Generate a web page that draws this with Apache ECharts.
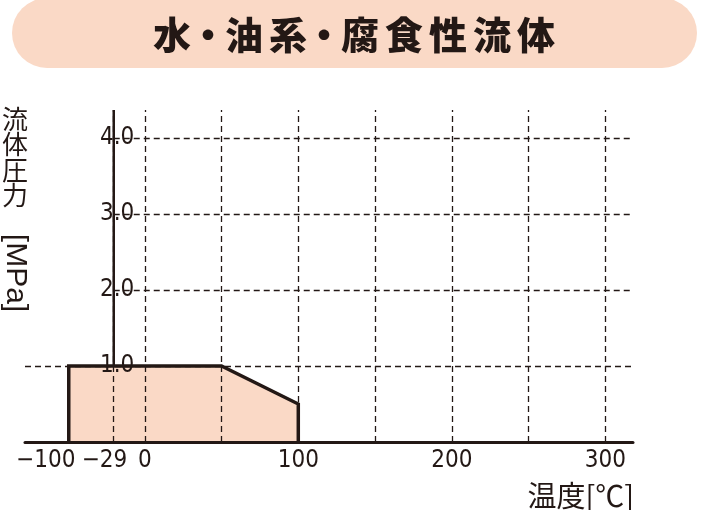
<!DOCTYPE html>
<html>
<head>
<meta charset="utf-8">
<script src="https://cdn.jsdelivr.net/npm/echarts@6/dist/echarts.min.js"></script>
<style>
  html, body { margin: 0; padding: 0; background: #fff; }
  #chart { width: 703px; height: 510px; }
</style>
</head>
<body>
<div id="chart"></div>
<script>
// working envelope: temperature [°C] vs fluid pressure [MPa]
const tempPoints = [-100, -100, 50, 100, 100];
const pressPoints = [0, 1.0, 1.0, 0.5, 0];

const xTickTemps = [-100, -29, 0, 100, 200, 300];
const xTickLabels = ['−100', '−29', '0', '100', '200', '300'];
const xGridTemps = [-29, 0, 50, 100, 150, 200, 250, 300];
const yTicks = [1.0, 2.0, 3.0, 4.0];

const titleText = '水・油系・腐食性流体';
const yNameChars = ['流', '体', '圧', '力'];
const yNameUnit = '[MPa]';
const xName = '温度[℃]';

const INK = '#231815';
const PEACH = '#fad9c6';
const NUM_FONT = 'DejaVu Sans Condensed';
const JP_FONT = '"Noto Sans CJK JP", sans-serif';

// the chart squeezes the range below 0 °C
const toAxis = t => {
    if (t >= 0) return t;
    if (t >= -29) return t * 20.2 / 29;
    return -20.2 + (t + 29) * (29.3 / 71);
};
const xMin = -78, xMax = 318;
const yMax = 4.37;
// labels left of zero sit a bit off their line
const labelNudge = [-15, -6, 0, 0, 0, 0];
const xLabelPos = xTickTemps.map((t, i) => toAxis(t) + labelNudge[i]);

const dash = { color: INK, width: 1.3, type: [6, 4] };

const envelope = tempPoints.map((t, i) => [toAxis(t), pressPoints[i]]);

const gridLines = [
    ...xGridTemps.map(t => ({ xAxis: toAxis(t) })),
    ...yTicks.map(v => [
        { coord: [v === 1 ? xMin : toAxis(-29), v] },
        { coord: [xMax, v] }
    ])
];

// title characters laid out one by one (dots are narrower)
const titleGraphics = [];
let cx = 150;
for (const ch of titleText) {
    const w = ch === '・' ? 28 : 44;
    titleGraphics.push({
        type: 'text', x: cx + w / 2, y: 35,
        style: { text: ch, font: '900 38px ' + JP_FONT, fill: INK, align: 'center', verticalAlign: 'middle' }
    });
    cx += w;
}

const yNameGraphics = yNameChars.map((ch, i) => ({
    type: 'text', x: 15, y: 119 + i * 25.5,
    style: { text: ch, font: '26px ' + JP_FONT, fill: INK, align: 'center', verticalAlign: 'middle' }
}));
yNameGraphics.push({
    type: 'text', x: 15, y: 273, rotation: -Math.PI / 2,
    style: { text: yNameUnit, font: '30px "Liberation Sans", sans-serif', fill: INK, align: 'center', verticalAlign: 'middle' }
});

const chart = echarts.init(document.getElementById('chart'));

chart.setOption({
    animation: false,
    backgroundColor: '#fff',
    grid: { left: 25, right: 70, top: 110, bottom: 68, containLabel: false, outerBoundsMode: 'none' },
    xAxis: {
        type: 'value', min: xMin, max: xMax, z: 5,
        axisLine: { onZero: false, lineStyle: { color: INK, width: 3 } },
        axisTick: { show: false },
        splitLine: { show: false },
        axisLabel: {
            customValues: xLabelPos,
            margin: 7,
            color: INK,
            fontSize: 24,
            fontFamily: NUM_FONT,
            formatter: v => {
                let best = 0;
                xLabelPos.forEach((p, i) => { if (Math.abs(p - v) < Math.abs(xLabelPos[best] - v)) best = i; });
                return xTickLabels[best];
            }
        }
    },
    yAxis: {
        type: 'value', min: 0, max: yMax, z: 6,
        axisLine: { show: false, onZero: false },
        axisTick: { show: false },
        splitLine: { show: false },
        axisLabel: {
            // labels sit just left of the y axis line, which is drawn at -29 °C
            inside: true,
            margin: 75,
            customValues: yTicks,
            color: INK,
            fontSize: 24,
            fontFamily: NUM_FONT,
            formatter: v => v.toFixed(1)
        }
    },
    series: [{
        // y axis line, under the fill
        type: 'line', z: 0,
        data: [[toAxis(-29), 0], [toAxis(-29), yMax]], symbol: 'none',
        lineStyle: { color: INK, width: 2.5 }
    }, {
        // fill
        type: 'line', z: 1,
        data: envelope, symbol: 'none',
        lineStyle: { width: 0 },
        areaStyle: { color: PEACH, opacity: 1 }
    }, {
        // dashed grid
        type: 'line', z: 2, data: [],
        markLine: {
            silent: true, symbol: 'none', label: { show: false },
            lineStyle: dash,
            data: gridLines
        }
    }, {
        // outline
        type: 'line', z: 3,
        data: envelope, symbol: 'none',
        lineStyle: { color: INK, width: 3.5, join: 'miter' }
    }],
    graphic: [
        { type: 'rect', shape: { x: 12, y: -2, width: 685, height: 70, r: 35 }, style: { fill: PEACH } },
        ...titleGraphics,
        ...yNameGraphics,
        {
            type: 'text', x: 634, y: 496,
            style: { text: xName, font: '29px ' + JP_FONT, fill: INK, align: 'right', verticalAlign: 'middle' }
        }
    ]
});
</script>
</body>
</html>
